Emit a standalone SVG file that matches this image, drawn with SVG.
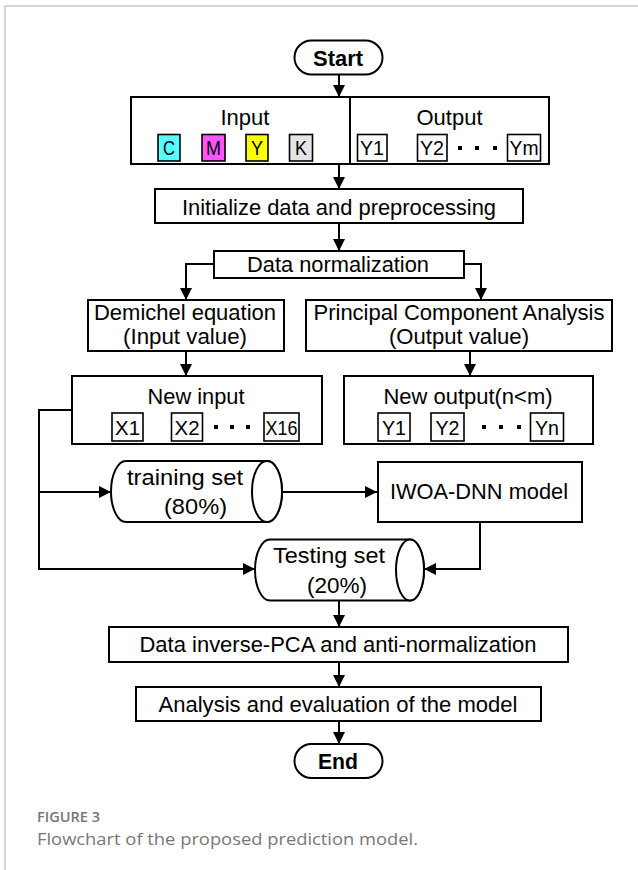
<svg xmlns="http://www.w3.org/2000/svg" width="638" height="870" viewBox="0 0 638 870">
<style>
.bx{fill:#fff;stroke:#000;stroke-width:2}
.sb{stroke:#000;stroke-width:1.6}
.t{font-family:"Liberation Sans",Arial,sans-serif;font-size:22px;fill:#000;text-anchor:middle}
.s{font-family:"Liberation Sans",Arial,sans-serif;font-size:21px;fill:#000;text-anchor:middle}
.b{font-weight:bold}
.ln{fill:none;stroke:#000;stroke-width:2}
.cap{font-family:"Open Sans","Noto Sans",sans-serif;fill:#777}
</style>
<defs>
<marker id="ah" markerUnits="userSpaceOnUse" markerWidth="12" markerHeight="12" refX="12" refY="6" orient="auto">
<path d="M0,0 L12,6 L0,12 Z" fill="#000"/>
</marker>
</defs>
<rect width="638" height="870" fill="#fff"/>
<path d="M5,870 V6 H638" fill="none" stroke="#c8c8c8" stroke-width="1.5"/>

<g id="connectors">
<path class="ln" d="M339,75 V97" marker-end="url(#ah)"/>
<path class="ln" d="M339,164 V189" marker-end="url(#ah)"/>
<path class="ln" d="M339,223 V251" marker-end="url(#ah)"/>
<path class="ln" d="M214,264 H186 V300" marker-end="url(#ah)"/>
<path class="ln" d="M464,264 H481 V300" marker-end="url(#ah)"/>
<path class="ln" d="M186,351 V376" marker-end="url(#ah)"/>
<path class="ln" d="M470,351 V376" marker-end="url(#ah)"/>
<path class="ln" d="M72,410 H39 V569 H255" marker-end="url(#ah)"/>
<path class="ln" d="M39,492 H111" marker-end="url(#ah)"/>
<path class="ln" d="M282,492 H377" marker-end="url(#ah)"/>
<path class="ln" d="M480,522 V569 H424" marker-end="url(#ah)"/>
<path class="ln" d="M339,594 V627" marker-end="url(#ah)"/>
<path class="ln" d="M339,662 V687" marker-end="url(#ah)"/>
<path class="ln" d="M339,721 V744" marker-end="url(#ah)"/>
</g>

<g id="start">
<rect class="bx" x="294.5" y="40.5" width="88" height="34" rx="17"/>
<text class="t b" x="338" y="66" textLength="50" lengthAdjust="spacingAndGlyphs">Start</text>
</g>

<g id="io">
<rect class="bx" x="131" y="97" width="418" height="67"/>
<line class="ln" x1="350" y1="97" x2="350" y2="164"/>
<text class="t" x="245" y="125" textLength="49" lengthAdjust="spacingAndGlyphs">Input</text>
<text class="t" x="449.5" y="125" textLength="66" lengthAdjust="spacingAndGlyphs">Output</text>
<rect class="sb" x="158" y="134.5" width="22" height="26.5" fill="#55ffff"/>
<text class="s" x="169" y="155" textLength="12" lengthAdjust="spacingAndGlyphs">C</text>
<rect class="sb" x="202" y="134.5" width="23" height="26.5" fill="#ff55ff"/>
<text class="s" x="213.5" y="155" textLength="15" lengthAdjust="spacingAndGlyphs">M</text>
<rect class="sb" x="246" y="134.5" width="22" height="26.5" fill="#ffff00"/>
<text class="s" x="257" y="155" textLength="12" lengthAdjust="spacingAndGlyphs">Y</text>
<rect class="sb" x="289.5" y="134.5" width="23" height="26.5" fill="#e4e4e4"/>
<text class="s" x="301" y="155" textLength="12" lengthAdjust="spacingAndGlyphs">K</text>
<rect class="sb" x="357.5" y="134.5" width="29.5" height="26.5" fill="#fff"/>
<text class="s" x="372" y="155" textLength="24" lengthAdjust="spacingAndGlyphs">Y1</text>
<rect class="sb" x="417.5" y="134.5" width="29.5" height="26.5" fill="#fff"/>
<text class="s" x="432" y="155" textLength="24" lengthAdjust="spacingAndGlyphs">Y2</text>
<rect x="458" y="146" width="4" height="4"/>
<rect x="475" y="146" width="4" height="4"/>
<rect x="493" y="146" width="4" height="4"/>
<rect class="sb" x="507.5" y="134.5" width="33" height="26.5" fill="#fff"/>
<text class="s" x="524" y="155" textLength="29" lengthAdjust="spacingAndGlyphs">Ym</text>
</g>

<g id="init">
<rect class="bx" x="155" y="189" width="368" height="34"/>
<text class="t" x="339" y="215" textLength="314" lengthAdjust="spacingAndGlyphs">Initialize data and preprocessing</text>
</g>

<g id="normalization">
<rect class="bx" x="214" y="251" width="250" height="27"/>
<text class="t" x="338" y="272" textLength="182" lengthAdjust="spacingAndGlyphs">Data normalization</text>
</g>

<g id="demichel">
<rect class="bx" x="88" y="300" width="196" height="51"/>
<text class="t" x="185" y="320" textLength="182" lengthAdjust="spacingAndGlyphs">Demichel equation</text>
<text class="t" x="185" y="344" textLength="124" lengthAdjust="spacingAndGlyphs">(Input value)</text>
</g>

<g id="pca">
<rect class="bx" x="306" y="300" width="306" height="51"/>
<text class="t" x="459" y="320" textLength="291" lengthAdjust="spacingAndGlyphs">Principal Component Analysis</text>
<text class="t" x="459" y="344" textLength="140" lengthAdjust="spacingAndGlyphs">(Output value)</text>
</g>

<g id="newinput">
<rect class="bx" x="72" y="376" width="250" height="68"/>
<text class="t" x="196" y="404" textLength="97" lengthAdjust="spacingAndGlyphs">New input</text>
<rect class="sb" x="112" y="413" width="31" height="28" fill="#fff"/>
<text class="s" x="127.5" y="434.5" textLength="25" lengthAdjust="spacingAndGlyphs">X1</text>
<rect class="sb" x="171.5" y="413" width="31" height="28" fill="#fff"/>
<text class="s" x="187" y="434.5" textLength="25" lengthAdjust="spacingAndGlyphs">X2</text>
<rect x="214" y="425" width="4" height="4"/>
<rect x="230" y="425" width="4" height="4"/>
<rect x="246" y="425" width="4" height="4"/>
<rect class="sb" x="264" y="413" width="35" height="28" fill="#fff"/>
<text class="s" x="281.5" y="434.5" textLength="32" lengthAdjust="spacingAndGlyphs">X16</text>
</g>

<g id="newoutput">
<rect class="bx" x="344" y="376" width="249" height="68"/>
<text class="t" x="468" y="404" textLength="169" lengthAdjust="spacingAndGlyphs">New output(n&lt;m)</text>
<rect class="sb" x="378" y="413" width="32" height="28" fill="#fff"/>
<text class="s" x="394" y="434.5" textLength="24" lengthAdjust="spacingAndGlyphs">Y1</text>
<rect class="sb" x="431" y="413" width="33" height="28" fill="#fff"/>
<text class="s" x="447.5" y="434.5" textLength="24" lengthAdjust="spacingAndGlyphs">Y2</text>
<rect x="482" y="425" width="4" height="4"/>
<rect x="499" y="425" width="4" height="4"/>
<rect x="517" y="425" width="4" height="4"/>
<rect class="sb" x="530.5" y="413" width="33" height="28" fill="#fff"/>
<text class="s" x="547" y="434.5" textLength="24" lengthAdjust="spacingAndGlyphs">Yn</text>
</g>

<g id="training">
<path class="bx" d="M126,461 H267 A15,30.5 0 0 1 267,522 H126 A15,30.5 0 0 1 126,461 Z"/>
<ellipse class="bx" cx="267" cy="491.5" rx="15" ry="30.5"/>
<text class="t" x="185" y="485" textLength="116" lengthAdjust="spacingAndGlyphs">training set</text>
<text class="t" x="195.5" y="514" textLength="63" lengthAdjust="spacingAndGlyphs">(80%)</text>
</g>

<g id="iwoa">
<rect class="bx" x="378" y="462" width="204" height="60"/>
<text class="t" x="479" y="499" textLength="178" lengthAdjust="spacingAndGlyphs">IWOA-DNN model</text>
</g>

<g id="testing">
<path class="bx" d="M270,539.5 H410 A14,30.5 0 0 1 410,600.5 H270 A15,30.5 0 0 1 270,539.5 Z"/>
<ellipse class="bx" cx="410" cy="570" rx="14" ry="30.5"/>
<text class="t" x="329" y="563" textLength="112" lengthAdjust="spacingAndGlyphs">Testing set</text>
<text class="t" x="337" y="593" textLength="60" lengthAdjust="spacingAndGlyphs">(20%)</text>
</g>

<g id="inverse">
<rect class="bx" x="109" y="627" width="459" height="35"/>
<text class="t" x="338" y="652" textLength="397" lengthAdjust="spacingAndGlyphs">Data inverse-PCA and anti-normalization</text>
</g>

<g id="analysis">
<rect class="bx" x="136" y="687" width="405" height="34"/>
<text class="t" x="338" y="712" textLength="359" lengthAdjust="spacingAndGlyphs">Analysis and evaluation of the model</text>
</g>

<g id="end">
<rect class="bx" x="294.5" y="744" width="88" height="34" rx="17"/>
<text class="t b" x="338" y="769" textLength="40" lengthAdjust="spacingAndGlyphs">End</text>
</g>

<g id="caption">
<text class="cap" x="37" y="822" font-size="14" font-weight="600" textLength="63" lengthAdjust="spacingAndGlyphs">FIGURE 3</text>
<text class="cap" x="37" y="845" font-size="16" textLength="381" lengthAdjust="spacingAndGlyphs">Flowchart of the proposed prediction model.</text>
</g>
</svg>
